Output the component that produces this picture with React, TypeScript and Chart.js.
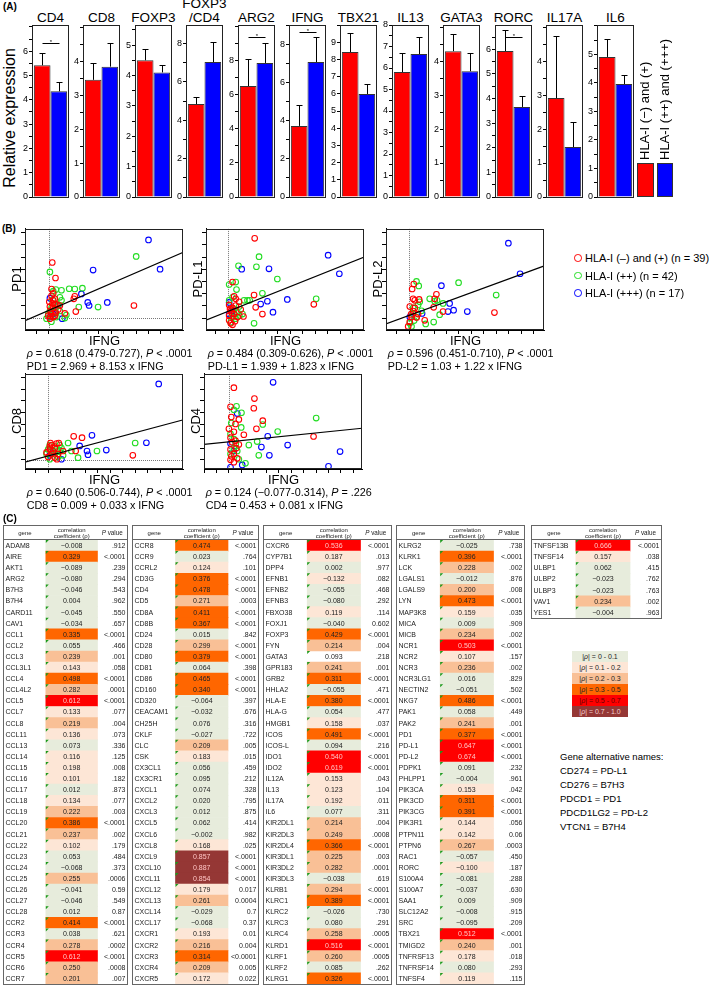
import React, { useEffect, useRef } from "react";
import { Chart, registerables } from "chart.js";

Chart.register(...registerables);
const FONT = "'Liberation Sans', Arial, Helvetica, sans-serif";
Chart.defaults.font.family = FONT;
Chart.defaults.color = "#000";

const RED = "#ff0000";
const BLUE = "#0000ff";
const GREEN = "#22dd22";

// ---------------- Panel A data ----------------
const genesA = ["CD4", "CD8", "FOXP3", "FOXP3\n/CD4", "ARG2", "IFNG", "TBX21", "IL13", "GATA3", "RORC", "IL17A", "IL6"];
const lowHLA = [5.42, 3.46, 4.5, 4.84, 6.49, 3.74, 8.43, 5.81, 4.29, 5.93, 2.91, 4.91];
const lowHLAErr = [0.51, 0.5, 0.36, 0.36, 1.58, 1.1, 1.1, 0.89, 0.5, 0.86, 1.83, 0.63];
const highHLA = [4.35, 3.85, 4.1, 7.03, 7.84, 7.1, 5.99, 6.65, 3.7, 3.66, 1.47, 3.96];
const highHLAErr = [0.4, 0.7, 0.23, 1.07, 1.16, 1.32, 0.58, 0.79, 0.53, 0.44, 0.73, 0.32];
const sigBracket: (number | null)[] = [6.35, null, null, null, 9.36, 8.68, null, null, null, 6.5, null, null];
const axisMaxA = [7.08, 5.08, 5.66, 8.96, 10.06, 9.05, 10, 8.0, 5.06, 6.99, 5.06, 6.03];
const tickStepA = [0.5, 0.5, 0.5, 1, 1, 1, 1, 0.5, 0.5, 0.5, 0.5, 0.5];
const labelStepA = [1, 1, 1, 2, 2, 2, 1, 1, 1, 1, 1, 1];
const labelMaxA = [6, 4, 5, 8, 8, 8, 9, 8, 4, 6, 4, 5];
const legendA = ["HLA-I (\u2212) and (+)", "HLA-I (++) and (+++)"];

// ---------------- Panel B data (IFNG on x) ----------------
const pd1Red = [[0.27,4.55],[0.53,3.28],[0.21,2.38],[0.35,2.03],[0.21,1.83],[0.35,1.45],[0.48,1.13],[2.08,1.78],[2.0,1.58],[0.61,1.13],[0.88,1.03],[0.08,0.95],[0.21,0.33],[0.35,0.08],[0.48,0.2],[1.28,0.38],[2.16,0.53],[6.83,1.03],[0.08,-0.05],[-0.05,0.2],[0.75,0.7],[0.35,0.83],[0.03,1.33],[0.48,1.58],[0.15,0.6],[0.55,0.45],[0.3,1.2],[0.12,0.15]];
const pd1Green = [[7.01,5.05],[0.08,3.78],[0.56,2.33],[1.01,2.28],[1.63,2.4],[2.08,2.38],[2.69,2.45],[0.88,1.7],[2.4,0.9],[3.95,0.9],[0.35,2.2],[-0.05,0.33],[0.35,0.08],[0.61,0.08],[1.28,0],[0.08,0.58],[0.21,0.83],[0.75,1.08],[0.48,0.45],[0.88,0.58],[-0.19,-0.05],[1.01,1.45],[0.3,1.5],[0.6,0.9],[1.4,0.25],[0.2,-0.3]];
const pd1Blue = [[8.0,6.4],[8.93,4.0],[3.55,3.93],[2.61,1.98],[3.12,1.28],[3.23,1.03],[4.69,1.28],[0.08,1.63],[1.07,-0.05],[0.35,0.33],[0.08,0.08],[0.75,1.03]];
const fitPD1 = [[-1.92,-0.22],[10.83,5.4]];

const pdl1Red = [[2.13,6.53],[0.35,2.95],[0.48,1.78],[0.88,1.33],[0.61,1.03],[0.35,0.83],[0.21,0.58],[0.48,0.33],[0.75,0.08],[0.08,-0.18],[0.21,-0.43],[0.35,-0.55],[2.08,1.88],[2.21,0.88],[2.75,0.33],[1.23,0.13],[6.88,1.13],[0.61,1.58],[0.08,0.2],[1.01,0.7],[0.08,1.08],[0.3,0.4],[0.55,-0.25],[0.15,0.75]];
const pdl1Green = [[2.48,5.03],[2.27,4.2],[0.83,4.28],[3.95,3.2],[0.61,2.95],[0.08,2.75],[0.67,2.33],[2.75,2.03],[1.55,1.45],[1.28,1.45],[1.73,1.45],[7.07,1.58],[2.08,-0.43],[0.35,1.7],[0.88,0.95],[0.61,-0.05],[0.35,0.08],[1.15,0.33],[0.08,1.45],[0.48,0.7],[0.75,0.45],[0.2,-0.35],[0.9,0.2]];
const pdl1Blue = [[8.03,5.15],[8.93,3.63],[1.09,4.0],[3.28,4.03],[0.08,1.28],[3.15,1.38],[2.61,1.15],[4.75,1.53],[3.6,0.48],[0.08,0.33],[0.35,0.58]];
const fitPDL1 = [[-1.79,-0.18],[10.93,5.0]];

const pdl2Red = [[0.37,2.78],[0.24,2.38],[0.32,1.58],[0.45,1.45],[0.8,1.53],[2.19,1.95],[2.05,1.58],[0.05,0.95],[0.32,0.58],[0.19,0.08],[0.72,0.33],[1.97,0.88],[2.72,0.53],[1.25,-0.18],[6.85,0.45],[-0.08,-0.68],[0.05,-0.3],[0.45,0.83],[0.15,0.3],[0.6,0.05]];
const pdl2Green = [[0.59,3.0],[0.77,2.63],[3.97,2.9],[6.99,1.88],[1.65,1.58],[2.05,1.38],[2.24,1.45],[2.72,1.2],[0.32,0.33],[0.59,0.08],[2.45,0.28],[1.97,-0.33],[1.33,-0.48],[0.05,-0.43],[0.19,-0.68],[0.32,0.83],[0.72,1.08],[0.85,1.33],[0.4,-0.2],[1.0,0.6]];
const pdl2Blue = [[7.97,6.13],[8.91,3.63],[2.59,2.65],[3.25,1.2],[3.12,0.53],[3.57,0.65],[4.67,0.53],[1.04,0.38],[0.05,0.08]];
const fitPDL2 = [[-1.87,-0.48],[10.8,4.25]];

const cd8Red = [[2.05,2.0],[2.72,1.88],[0.19,1.43],[0.67,1.38],[0.85,1.43],[0.13,0.88],[0.4,0.75],[0.27,0.5],[0,0.25],[0.53,0.2],[0.8,0.5],[1.2,0.75],[2.21,0.75],[6.8,0.38],[0.13,1.13],[0.53,1.0],[-0.13,0.63],[0.3,1.25],[0.7,0.05]];
const cd8Green = [[6.99,1.43],[3.92,0.75],[1.6,1.43],[1.87,0.75],[2.4,0.18],[0.13,1.25],[0.53,1.13],[0.93,1.25],[0.27,0.75],[0.53,0.5],[0.8,0.25],[0.13,0.05],[0.93,0.75],[1.2,0.38],[0,0.88],[-0.13,0.5],[0.67,0.88],[1.07,1.0]];
const cd8Blue = [[8.88,6.45],[3.52,2.08],[2.53,1.18],[3.12,0.75],[3.2,0.43],[4.67,0.83],[7.89,1.45],[1.07,0.05],[0.13,0.38],[0.4,0.63]];
const fitCD8 = [[-1.87,-0.2],[10.8,3.38]];

const cd4Red = [[0.4,6.13],[2.05,5.2],[2.0,4.38],[0.13,4.5],[0.19,3.63],[0.8,3.43],[0.53,3.05],[2.72,3.33],[2.21,2.63],[1.2,2.13],[6.8,1.98],[0.4,2.38],[0.13,1.88],[0.53,1.63],[0.8,1.3],[0.13,0.88],[0.4,0.5],[0.13,0],[0.4,-0.2],[0.67,0.13],[0,2.63],[0.27,1.5],[0.6,1.0],[0.2,0.3]];
const cd4Green = [[0.61,4.55],[0.4,4.25],[1.01,4.0],[0.19,3.13],[0.99,2.75],[2.72,3.0],[3.92,2.4],[7.01,3.55],[1.6,1.25],[2.27,1.55],[2.4,0.38],[1.33,-0.3],[0.4,1.0],[0.67,0.75],[0.13,0.5],[0.8,0.05],[0.4,1.75],[0.13,2.2],[0.55,1.35]];
const cd4Blue = [[3.55,6.58],[0.67,3.93],[3.12,2.0],[4.72,1.25],[2.61,1.08],[3.25,0.38],[8.93,0.7],[8.0,-0.55],[1.07,-0.43],[0.13,-0.63],[0.13,1.38],[0.4,0.75]];
const fitCD4 = [[-2.08,1.3],[10.85,2.7]];

const yNamesB = ["PD1", "PD-L1", "PD-L2", "CD8", "CD4"];
const statCI = ["0.618 (0.479-0.727)", "0.484 (0.309-0.626)", "0.596 (0.451-0.710)", "0.640 (0.506-0.744)", "0.124 (\u22120.077-0.314)"];
const statP = ["< .0001", "< .0001", "< .0001", "< .0001", "= .226"];
const statEq = ["PD1 = 2.969 + 8.153 x IFNG", "PD-L1 = 1.939 + 1.823 x IFNG", "PD-L2 = 1.03 + 1.22 x IFNG", "CD8 = 0.009 + 0.033 x IFNG", "CD4 = 0.453 + 0.081 x IFNG"];
const groupNamesB = ["HLA-I (\u2013) and (+) (n = 39)", "HLA-I (++) (n = 42)", "HLA-I (+++) (n = 17)"];

// ---------------- Panel C data ----------------
const t1Genes = ["ADAM8","AIRE","AKT1","ARG2","B7H3","B7H4","CARD11","CAV1","CCL1","CCL2","CCL3","CCL3L1","CCL4","CCL4L2","CCL5","CCL7","CCL8","CCL11","CCL13","CCL14","CCL15","CCL16","CCL17","CCL18","CCL19","CCL20","CCL21","CCL22","CCL23","CCL24","CCL25","CCL26","CCL27","CCL28","CCR2","CCR3","CCR4","CCR5","CCR6","CCR7"];
const t1Rho = [-0.008,0.329,-0.089,-0.080,-0.046,0.004,-0.045,-0.034,0.335,0.055,0.239,0.143,0.498,0.282,0.612,0.133,0.219,0.136,0.073,0.116,0.198,0.101,0.012,0.134,0.222,0.386,0.237,0.102,0.053,-0.068,0.255,-0.041,-0.046,0.012,0.414,0.038,0.278,0.612,0.250,0.201];
const t1P = [".912","<.0001",".239",".294",".543",".962",".550",".657","<.0001",".466",".001",".058","<.0001",".0001","<.0001",".077",".004",".073",".336",".125",".008",".182",".873",".077",".003","<.0001",".002",".179",".484",".373",".0006","0.59",".549","0.87","<.0001",".621",".0002","<.0001",".0008",".007"];

const t2Genes = ["CCR8","CCR9","CCRL2","CD3G","CD4","CD5","CD8A","CD8B","CD24","CD28","CD80","CD81","CD86","CD160","CD320","CEACAM1","CH25H","CKLF","CLC","CSK","CX3CL1","CX3CR1","CXCL1","CXCL2","CXCL3","CXCL5","CXCL6","CXCL8","CXCL9","CXCL10","CXCL11","CXCL12","CXCL13","CXCL14","CXCL17","CXCR1","CXCR2","CXCR3","CXCR4","CXCR5"];
const t2Rho = [0.474,0.023,0.124,0.376,0.478,0.271,0.411,0.367,0.015,0.299,0.379,0.064,0.465,0.340,-0.064,-0.032,0.076,-0.027,0.209,0.183,0.056,0.095,0.074,0.020,0.012,0.062,-0.002,0.168,0.857,0.887,0.854,0.179,0.261,-0.029,-0.068,0.193,0.216,0.314,0.209,0.172];
const t2P = ["<.0001",".764",".101","<.0001","<.0001",".0003","<.0001","<.0001",".842","<.0001","<.0001",".398","<.0001","<.0001",".397",".676",".316",".722",".005",".015",".459",".212",".328",".795",".875",".414",".982",".025","<.0001","<.0001","<.0001","0.017","0.0004","0.7","0.37","0.01","0.004","<0.0001","0.005","0.022"];

const t3Genes = ["CXCR6","CYP7B1","DPP4","EFNB1","EFNB2","EFNB3","FBXO38","FOXJ1","FOXP3","FYN","GATA3","GPR183","GRB2","HHLA2","HLA-E","HLA-G","HMGB1","ICOS","ICOS-L","IDO1","IDO2","IL12A","IL13","IL17A","IL6","KIR2DL1","KIR2DL3","KIR2DL4","KIR3DL1","KIR3DL2","KIR3DL3","KLRB1","KLRC1","KLRC2","KLRC3","KLRC4","KLRD1","KLRF1","KLRF2","KLRG1"];
const t3Rho = [0.536,0.187,0.002,-0.132,-0.055,-0.080,0.119,-0.040,0.429,0.214,0.093,0.241,0.311,-0.055,0.380,0.054,0.158,0.491,0.094,0.540,0.619,0.153,0.123,0.192,0.077,0.214,0.249,0.366,0.225,0.282,-0.038,0.294,0.389,-0.026,0.080,0.258,0.516,0.260,0.085,0.326];
const t3P = ["<.0001",".013",".977",".082",".468",".292",".114","0.602","<.0001",".004",".218",".001","<.0001",".471","<.0001",".477",".037","<.0001",".216","<.0001","<.0001",".043",".104",".011",".311",".004",".0008","<.0001",".003",".0001",".619","<.0001","<.0001",".730",".291",".0005","<.0001",".0005",".262","<.0001"];

const t4Genes = ["KLRG2","KLRK1","LCK","LGALS1","LGALS9","LYN","MAP3K8","MICA","MICB","NCR1","NCR2","NCR3","NCR3LG1","NECTIN2","NKG7","PAK1","PAK2","PD1","PD-L1","PD-L2","PDPK1","PHLPP1","PIK3CA","PIK3CD","PIK3CG","PIK3R1","PTPN11","PTPN6","RAC1","RORC","S100A4","S100A7","SAA1","SLC12A2","SRC","TBX21","TMIGD2","TNFRSF13","TNFRSF14","TNFSF4"];
const t4Rho = [-0.025,0.396,0.228,-0.012,0.200,0.473,0.159,0.009,0.234,0.503,0.107,0.236,0.016,-0.051,0.486,0.058,0.241,0.377,0.647,0.674,0.091,-0.004,0.153,0.311,0.391,0.144,0.142,0.267,-0.057,-0.100,-0.081,-0.037,0.009,-0.008,-0.095,0.512,0.240,0.178,0.080,0.119];
const t4P = [".738","<.0001",".002",".876",".008","<.0001",".035",".909",".002","<.0001",".157",".002",".829",".502","<.0001",".449",".001","<.0001","<.0001","<.0001",".232",".961",".042","<.0001","<.0001",".056","0.06",".0003",".450",".187",".288",".630",".909",".915",".209","<.0001",".001",".018",".293",".115"];

const t5Genes = ["TNFSF13B","TNFSF14","ULBP1","ULBP2","ULBP3","VAV1","YES1"];
const t5Rho = [0.666,0.157,0.062,-0.023,-0.023,0.234,-0.004];
const t5P = ["<.0001",".038",".415",".762",".763",".002",".963"];

const blankCells = ["GATA3"];
const binLabels = ["0 - 0.1", "0.1 - 0.2", "0.2 - 0.3", "0.3 - 0.5", "0.5 - 0.7", "0.7 - 1.0"];
const binColors = ["#e7ecdc", "#fde6d6", "#f9c096", "#ff6600", "#ff0000", "#953735"];
const binEdges = [0.1, 0.2, 0.3, 0.5, 0.7];
const altNames = ["CD274 = PD-L1", "CD276 = B7H3", "PDCD1 = PD1", "PDCD1LG2 = PD-L2", "VTCN1 = B7H4"];

function cellColor(v: number) {
  const a = Math.abs(v);
  let k = 0;
  while (k < binEdges.length && a >= binEdges[k]) k++;
  return binColors[k];
}
function fmtRho(v: number) {
  return (v < 0 ? "\u2212" : "") + Math.abs(v).toFixed(3);
}

// ---------------- helpers ----------------
function Txt(props: any) {
  const { x, y, size, children, anchor = "middle", rotate = 0, bold, italic, style } = props;
  const tx = anchor === "middle" ? "-50%" : anchor === "end" ? "-100%" : "0";
  return (
    <div
      style={{
        position: "absolute", left: x, top: y, fontSize: size, lineHeight: 1, whiteSpace: "nowrap",
        fontWeight: bold ? "bold" : "normal", fontStyle: italic ? "italic" : "normal",
        transform: `translate(${tx},-50%)` + (rotate ? ` rotate(${rotate}deg)` : ""), ...style,
      }}
    >
      {children}
    </div>
  );
}

// ---------------- Panel A component ----------------
const A_TOP = 25, A_BOTTOM = 197, A_LEFT0 = 32, A_PITCH = 51.4, A_BOXW = 37;

function BarPanel({ i }: { i: number }) {
  const ref = useRef<HTMLCanvasElement>(null);
  const axisW = 24, padT = 8, padB = 8, padR = 3;
  const boxL = Math.round(A_LEFT0 + i * A_PITCH);
  const left = boxL - axisW;
  const width = axisW + A_BOXW + padR;
  const height = A_BOTTOM - A_TOP + padT + padB;
  useEffect(() => {
    const max = axisMaxA[i], step = tickStepA[i], lab = labelStepA[i], labMax = labelMaxA[i];
    const tickVals: number[] = [];
    for (let k = 0; k * step <= max + 1e-6; k++) tickVals.push(Math.round(k * step * 100) / 100);
    const vals = [lowHLA[i], highHLA[i]];
    const errs = [lowHLAErr[i], highHLAErr[i]];
    const sig = sigBracket[i];
    const deco = {
      id: "deco",
      afterDatasetsDraw(chart: any) {
        const { ctx, chartArea: ca, scales } = chart;
        const ys = scales.y;
        ctx.save();
        ctx.strokeStyle = "#000";
        ctx.lineWidth = 1;
        const xs: number[] = [];
        for (let d = 0; d < 2; d++) {
          const bar = chart.getDatasetMeta(d).data[0];
          const x = Math.round(bar.x) + 0.5;
          xs.push(x);
          const y0 = ys.getPixelForValue(vals[d]);
          const y1 = Math.round(ys.getPixelForValue(vals[d] + errs[d])) + 0.5;
          ctx.beginPath();
          ctx.moveTo(x, y0);
          ctx.lineTo(x, y1);
          ctx.moveTo(x - 3, y1);
          ctx.lineTo(x + 3, y1);
          ctx.stroke();
        }
        if (sig != null) {
          const y = Math.round(ys.getPixelForValue(sig)) + 0.5;
          ctx.beginPath();
          ctx.moveTo(xs[0], y);
          ctx.lineTo(xs[1], y);
          ctx.stroke();
          ctx.fillStyle = "#000";
          ctx.font = `6px ${FONT}`;
          ctx.textAlign = "center";
          ctx.textBaseline = "bottom";
          ctx.fillText("*", (xs[0] + xs[1]) / 2, y + 2);
        }
        ctx.strokeStyle = "#222";
        ctx.strokeRect(Math.round(ca.left) + 0.5, Math.round(ca.top) + 0.5, Math.round(ca.right - ca.left) - 1, Math.round(ca.bottom - ca.top));
        ctx.restore();
      },
    };
    const chart = new Chart(ref.current!, {
      type: "bar",
      data: {
        labels: [""],
        datasets: [
          { data: [vals[0]], backgroundColor: RED, borderColor: "#333", borderWidth: 1 },
          { data: [vals[1]], backgroundColor: BLUE, borderColor: "#333", borderWidth: 1 },
        ],
      },
      options: {
        animation: false,
        responsive: false,
        layout: { padding: { top: padT, bottom: padB, left: 0, right: padR } },
        plugins: { legend: { display: false }, tooltip: { enabled: false }, title: { display: false } },
        datasets: { bar: { categoryPercentage: 0.9, barPercentage: 1 } },
        scales: {
          x: { display: false },
          y: {
            min: 0,
            max,
            afterFit: (s: any) => { s.width = axisW; },
            afterBuildTicks: (s: any) => { s.ticks = tickVals.map((v) => ({ value: v })); },
            ticks: {
              autoSkip: false,
              padding: 1,
              font: { size: 9, family: FONT },
              color: "#000",
              callback: (v: any) => {
                const q = v / lab;
                return Math.abs(q - Math.round(q)) < 1e-6 && v <= labMax + 1e-6 ? String(v) : "";
              },
            },
            grid: { drawOnChartArea: false, tickLength: 3, color: "#000", tickColor: "#000" },
            border: { display: true, color: "#000" },
          },
        },
      } as any,
      plugins: [deco],
    });
    return () => chart.destroy();
  }, [i]);
  return (
    <canvas ref={ref} width={width} height={height}
      style={{ position: "absolute", left, top: A_TOP - padT, width, height }} />
  );
}

// ---------------- Panel B component ----------------
const SC_W = 159;

function Scatter(props: any) {
  const { L, T, B, xmin, ymin, ymax, red, green, blue, fit, zeroH } = props;
  const ref = useRef<HTMLCanvasElement>(null);
  const axW = 6, padT = 3, padR = 3;
  const width = axW + SC_W + padR;
  const height = B - T + padT + axW;
  useEffect(() => {
    const xmax = xmin + SC_W / 12.52;
    const intTicks = (a: number, b: number) => {
      const out: any[] = [];
      for (let v = Math.ceil(a); v <= Math.floor(b); v++) out.push({ value: v });
      return out;
    };
    const deco = {
      id: "deco",
      beforeDatasetsDraw(chart: any) {
        const { ctx, chartArea: ca, scales } = chart;
        ctx.save();
        ctx.strokeStyle = "#777";
        ctx.lineWidth = 1;
        ctx.setLineDash([1, 1]);
        const x0 = Math.round(scales.x.getPixelForValue(0)) + 0.5;
        ctx.beginPath();
        ctx.moveTo(x0, ca.top);
        ctx.lineTo(x0, ca.bottom);
        ctx.stroke();
        if (zeroH) {
          const y0 = Math.round(scales.y.getPixelForValue(0)) + 0.5;
          ctx.beginPath();
          ctx.moveTo(ca.left, y0);
          ctx.lineTo(ca.right, y0);
          ctx.stroke();
        }
        ctx.restore();
      },
      afterDraw(chart: any) {
        const { ctx, chartArea: ca } = chart;
        ctx.save();
        ctx.strokeStyle = "#222";
        ctx.lineWidth = 1;
        ctx.strokeRect(Math.round(ca.left) + 0.5, Math.round(ca.top) + 0.5, Math.round(ca.right - ca.left) - 1, Math.round(ca.bottom - ca.top) - 1);
        ctx.restore();
      },
    };
    const pts = (a: number[][]) => a.map(([x, y]) => ({ x, y }));
    const ptStyle = (c: string) => ({
      borderColor: c, backgroundColor: "rgba(0,0,0,0)", pointRadius: 2.8, pointBorderWidth: 1.1, pointHoverRadius: 2.8,
    });
    const chart = new Chart(ref.current!, {
      type: "scatter",
      data: {
        datasets: [
          { data: pts(fit), showLine: true, borderColor: "#000", borderWidth: 1.2, pointRadius: 0, fill: false },
          { data: pts(red), ...ptStyle(RED) },
          { data: pts(green), ...ptStyle(GREEN) },
          { data: pts(blue), ...ptStyle(BLUE) },
        ],
      },
      options: {
        animation: false,
        responsive: false,
        layout: { padding: { top: padT, right: padR, left: 0, bottom: 0 } },
        plugins: { legend: { display: false }, tooltip: { enabled: false } },
        scales: {
          x: {
            type: "linear", min: xmin, max: xmax,
            afterFit: (s: any) => { s.height = axW; },
            afterBuildTicks: (s: any) => { s.ticks = intTicks(xmin, xmax); },
            ticks: { display: false },
            grid: { drawOnChartArea: false, tickLength: 4, color: "#000", tickColor: "#000" },
            border: { display: true, color: "#000" },
          },
          y: {
            type: "linear", min: ymin, max: ymax,
            afterFit: (s: any) => { s.width = axW; },
            afterBuildTicks: (s: any) => { s.ticks = intTicks(ymin, ymax); },
            ticks: { display: false },
            grid: { drawOnChartArea: false, tickLength: 4, color: "#000", tickColor: "#000" },
            border: { display: true, color: "#000" },
          },
        },
      } as any,
      plugins: [deco],
    });
    return () => chart.destroy();
  }, []);
  return (
    <canvas ref={ref} width={width} height={height}
      style={{ position: "absolute", left: L - axW, top: T - padT, width, height }} />
  );
}

const R1T = 228, R1B = 330, R2T = 373, R2B = 469;
const scatterCfgs = [
  { L: 25, T: R1T, B: R1B, xmin: -1.92, ymin: -0.975, ymax: 7.3, red: pd1Red, green: pd1Green, blue: pd1Blue, fit: fitPD1, zeroH: true },
  { L: 206, T: R1T, B: R1B, xmin: -1.78, ymin: -0.975, ymax: 7.3, red: pdl1Red, green: pdl1Green, blue: pdl1Blue, fit: fitPDL1, zeroH: false },
  { L: 386, T: R1T, B: R1B, xmin: -1.86, ymin: -0.975, ymax: 7.3, red: pdl2Red, green: pdl2Green, blue: pdl2Blue, fit: fitPDL2, zeroH: false },
  { L: 25, T: R2T, B: R2B, xmin: -1.86, ymin: -0.78, ymax: 7.3, red: cd8Red, green: cd8Green, blue: cd8Blue, fit: fitCD8, zeroH: true },
  { L: 204, T: R2T, B: R2B, xmin: -2.0, ymin: -0.78, ymax: 7.3, red: cd4Red, green: cd4Green, blue: cd4Blue, fit: fitCD4, zeroH: false },
];

// ---------------- Panel C component ----------------
const TABLE_TOP = 525, TABLE_HEAD = 15, ROW_H = 11.1;
const COLS = [0.34, 0.42, 0.24];

function CorrTable(props: any) {
  const { genes, rho, pv, left, width } = props;
  const ref = useRef<HTMLCanvasElement>(null);
  const n = genes.length;
  const height = Math.round(TABLE_HEAD + n * ROW_H + 1);
  useEffect(() => {
    const c0 = COLS[0], c1 = COLS[0] + COLS[1];
    const plugin = {
      id: "tableText",
      afterDatasetsDraw(chart: any) {
        const { ctx, chartArea: ca, scales } = chart;
        const xs = scales.x, ys = scales.y;
        const xa = xs.getPixelForValue(c0), xb = xs.getPixelForValue(c1);
        const rh = (ca.bottom - ca.top) / n;
        ctx.save();
        ctx.textBaseline = "middle";
        for (let r = 0; r < n; r++) {
          const yc = ys.getPixelForValue(r);
          const yt = yc - rh / 2;
          ctx.fillStyle = "#1c9a1c";
          ctx.beginPath();
          ctx.moveTo(xa, yt);
          ctx.lineTo(xa + 3, yt);
          ctx.lineTo(xa, yt + 3);
          ctx.closePath();
          ctx.fill();
          ctx.font = `7px ${FONT}`;
          ctx.fillStyle = "#222";
          ctx.textAlign = "left";
          ctx.fillText(genes[r], ca.left + 1.5, yc + 0.5);
          ctx.textAlign = "center";
          ctx.fillStyle = Math.abs(rho[r]) >= 0.5 ? "#ffc4c4" : "#222";
          ctx.fillText(fmtRho(rho[r]), (xa + xb) / 2, yc + 0.5);
          ctx.fillStyle = "#222";
          ctx.textAlign = "right";
          ctx.fillText(pv[r], ca.right - 1.5, yc + 0.5);
        }
        const hy = ca.top / 2;
        ctx.fillStyle = "#222";
        ctx.font = `6px ${FONT}`;
        ctx.textAlign = "center";
        ctx.fillText("gene", (ca.left + xa) / 2, hy + 0.5);
        ctx.fillText("correlation", (xa + xb) / 2, hy - 2.6);
        ctx.fillText("coefficient (\u03c1)", (xa + xb) / 2, hy + 3.4);
        const italic = `italic 6.3px ${FONT}`, normal = `6.3px ${FONT}`;
        ctx.font = italic;
        const wP = ctx.measureText("P").width;
        ctx.font = normal;
        const wV = ctx.measureText(" value").width;
        const px = (xb + ca.right) / 2 - (wP + wV) / 2;
        ctx.textAlign = "left";
        ctx.font = italic;
        ctx.fillText("P", px, hy + 0.5);
        ctx.font = normal;
        ctx.fillText(" value", px + wP, hy + 0.5);
        ctx.strokeStyle = "#666";
        ctx.lineWidth = 1;
        ctx.strokeRect(0.5, 0.5, chart.width - 1, chart.height - 1);
        ctx.beginPath();
        ctx.moveTo(0, Math.round(ca.top) - 0.5);
        ctx.lineTo(chart.width, Math.round(ca.top) - 0.5);
        ctx.stroke();
        ctx.restore();
      },
    };
    const chart = new Chart(ref.current!, {
      type: "bar",
      data: {
        labels: genes,
        datasets: [{
          data: rho.map(() => [c0, c1]),
          backgroundColor: rho.map((v: number, k: number) => (blankCells.includes(genes[k]) ? "rgba(0,0,0,0)" : cellColor(v))),
          borderWidth: 0,
          categoryPercentage: 1,
          barPercentage: 1,
        }],
      },
      options: {
        indexAxis: "y",
        animation: false,
        responsive: false,
        layout: { padding: { top: TABLE_HEAD, left: 1, right: 1, bottom: 1 } },
        plugins: { legend: { display: false }, tooltip: { enabled: false } },
        scales: {
          x: { type: "linear", min: 0, max: 1, display: false },
          y: { type: "category", display: false, offset: true },
        },
      } as any,
      plugins: [plugin],
    });
    return () => chart.destroy();
  }, []);
  return (
    <canvas ref={ref} width={width} height={height}
      style={{ position: "absolute", left, top: TABLE_TOP, width, height }} />
  );
}

const tables = [
  { genes: t1Genes, rho: t1Rho, pv: t1P, left: 3, width: 125 },
  { genes: t2Genes, rho: t2Rho, pv: t2P, left: 132, width: 127 },
  { genes: t3Genes, rho: t3Rho, pv: t3P, left: 263, width: 129 },
  { genes: t4Genes, rho: t4Rho, pv: t4P, left: 396, width: 129 },
  { genes: t5Genes, rho: t5Rho, pv: t5P, left: 531, width: 131 },
];

// ---------------- App ----------------
export default function App() {
  return (
    <div style={{ position: "absolute", left: 0, top: 0, width: 709, height: 988, overflow: "hidden", background: "#fff", fontFamily: FONT, color: "#000" }}>
      {/* Panel A */}
      <Txt x={3} y={7} size={10} bold anchor="start">(A)</Txt>
      <Txt x={10} y={118} size={16} rotate={-90}>Relative expression</Txt>
      {genesA.map((g, i) => {
        const cx = Math.round(A_LEFT0 + i * A_PITCH) + A_BOXW / 2;
        const lines = g.split("\n");
        return lines.length === 1 ? (
          <Txt key={g} x={cx} y={17.5} size={13.5}>{g}</Txt>
        ) : (
          <React.Fragment key={g}>
            <Txt x={cx} y={4} size={13.5}>{lines[0]}</Txt>
            <Txt x={cx} y={18} size={13.5}>{lines[1]}</Txt>
          </React.Fragment>
        );
      })}
      {genesA.map((_, i) => <BarPanel key={i} i={i} />)}
      <div style={{ position: "absolute", left: 637, top: 163, width: 17, height: 34, background: RED, boxSizing: "border-box", border: "1px solid #333" }} />
      <div style={{ position: "absolute", left: 657, top: 163, width: 16, height: 34, background: BLUE, boxSizing: "border-box", border: "1px solid #333" }} />
      {legendA.map((t, k) => (
        <div key={t} style={{ position: "absolute", left: (k === 0 ? 644 : 664) - 6.5, top: 160, fontSize: 13, lineHeight: "13px", whiteSpace: "nowrap", transform: "rotate(-90deg)", transformOrigin: "0 0" }}>{t}</div>
      ))}

      {/* Panel B */}
      <Txt x={2} y={229} size={10} bold anchor="start">(B)</Txt>
      {scatterCfgs.map((c, k) => (
        <React.Fragment key={k}>
          <Scatter {...c} />
          <Txt x={c.L - 9} y={(c.T + c.B) / 2} size={13} rotate={-90}>{yNamesB[k]}</Txt>
          <Txt x={c.L + SC_W / 2} y={c.B + 9.5} size={13}>IFNG</Txt>
          <Txt x={c.L + 1.7} y={c.B + 23} size={10.8} anchor="start">
            <i>{"\u03c1"}</i>{" = " + statCI[k] + ", "}<i>P</i>{" " + statP[k]}
          </Txt>
          <Txt x={c.L + 1.7} y={c.B + 36} size={10.8} anchor="start">{statEq[k]}</Txt>
        </React.Fragment>
      ))}
      {groupNamesB.map((t, k) => (
        <React.Fragment key={t}>
          <div style={{ position: "absolute", left: 578 - 3.8, top: 258 + k * 17.5 - 3.8, width: 7.6, height: 7.6, borderRadius: "50%", boxSizing: "border-box", border: `1.2px solid ${[RED, GREEN, BLUE][k]}` }} />
          <Txt x={585} y={258 + k * 17.5} size={11} anchor="start">{t}</Txt>
        </React.Fragment>
      ))}

      {/* Panel C */}
      <Txt x={3} y={519} size={10} bold anchor="start">(C)</Txt>
      {tables.map((t, k) => <CorrTable key={k} {...t} />)}
      {binLabels.map((b, k) => (
        <div key={b} style={{ position: "absolute", left: 572, top: 651 + k * 11, width: 56, height: 11, background: binColors[k], fontSize: 7, lineHeight: "11px", textAlign: "center", color: k === 5 ? "#f3d0d0" : k === 4 ? "#600" : "#222" }}>
          |<i>{"\u03c1"}</i>| = {b}
        </div>
      ))}
      <Txt x={560} y={757} size={9.5} anchor="start">Gene alternative names:</Txt>
      {altNames.map((a, k) => (
        <Txt key={a} x={560} y={771 + k * 14} size={9.5} anchor="start">{a}</Txt>
      ))}
    </div>
  );
}
